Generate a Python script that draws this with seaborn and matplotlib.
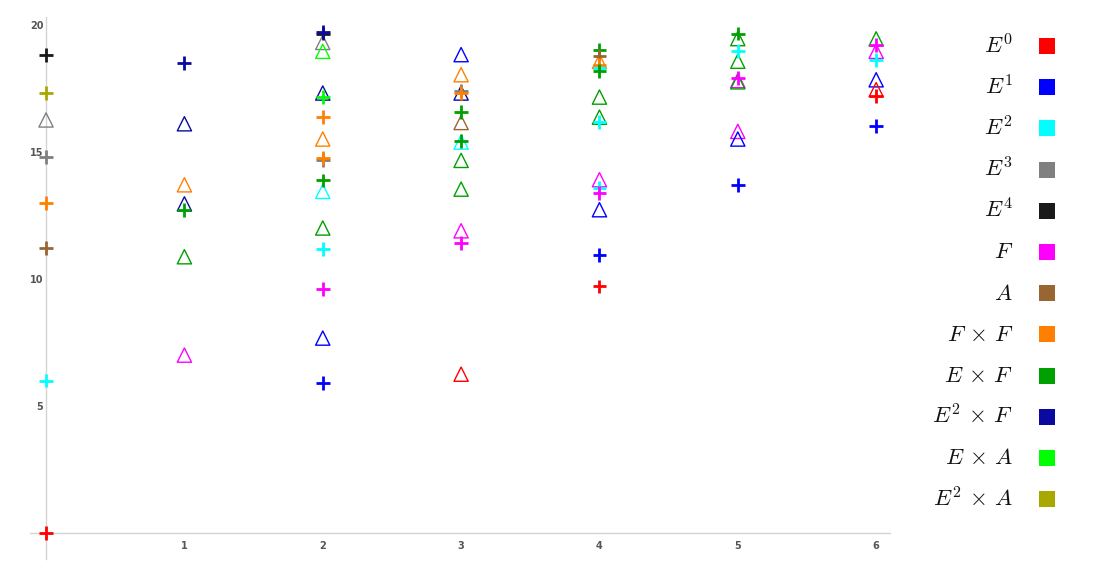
import numpy as np
import pandas as pd
import matplotlib
matplotlib.use("Agg")
import matplotlib.pyplot as plt
from matplotlib.patches import Rectangle
from matplotlib.ticker import MultipleLocator, FixedLocator
import seaborn as sns

# ---- categories / legend ----
categories = ["E0", "E1", "E2", "E3", "E4", "F", "A", "FxF", "ExF", "E2xF", "ExA", "E2xA"]
labels = [r"$E^0$", r"$E^1$", r"$E^2$", r"$E^3$", r"$E^4$", r"$F$", r"$A$",
          r"$F\,\times\,F$", r"$E\,\times\,F$", r"$E^2\,\times\,F$", r"$E\,\times\,A$", r"$E^2\,\times\,A$"]
colors = ["#ff0000", "#0000ff", "#00ffff", "#808080", "#1a1a1a", "#ff00ff", "#996633",
          "#ff8000", "#00a000", "#0a0aa0", "#00ff00", "#a8a800"]

# ---- plus-marker series ----
plus_x = [0, 0, 0, 0, 0, 0, 0,
          1, 1,
          2, 2, 2, 2, 2, 2, 2, 2, 2, 2,
          3, 3, 3, 3, 3,
          4, 4, 4, 4, 4, 4, 4, 4, 4, 4,
          5, 5, 5, 5,
          6, 6, 6, 6]
plus_y = [18.8, 17.3, 14.8, 13.0, 11.2, 6.0, 0.0,
          18.5, 12.7,
          19.65, 19.72, 17.15, 16.35, 14.68, 14.75, 13.87, 11.17, 9.6, 5.92,
          17.38, 17.31, 16.55, 15.41, 11.4,
          19.0, 18.75, 18.3, 18.4, 18.16, 16.18, 13.57, 13.37, 10.94, 9.7,
          19.65, 18.95, 17.9, 13.7,
          19.2, 18.62, 17.2, 16.02]
plus_cat = ["E4", "E2xA", "E3", "FxF", "A", "E2", "E0",
            "E2xF", "ExF",
            "E4", "E2xF", "ExA", "FxF", "E3", "FxF", "ExF", "E2", "F", "E1",
            "E3", "FxF", "ExF", "ExF", "F",
            "ExF", "A", "E2", "FxF", "ExF", "E2", "E2", "F", "E1", "E0",
            "ExF", "E2", "F", "E1",
            "F", "E2", "E0", "E1"]

# ---- triangle-marker series ----
tri_x = [0,
         1, 1, 1, 1, 1,
         2, 2, 2, 2, 2, 2, 2,
         3, 3, 3, 3, 3, 3, 3, 3, 3,
         4, 4, 4, 4, 4,
         5, 5, 5, 5, 5, 5,
         6, 6, 6, 6]
tri_y = [16.25,
         16.1, 13.7, 12.95, 10.87, 7.0,
         19.3, 18.95, 17.31, 15.5, 13.44, 12.0, 7.67,
         18.82, 18.03, 17.31, 16.15, 15.38, 14.66, 13.53, 11.89, 6.25,
         18.55, 17.15, 16.36, 13.9, 12.72,
         19.45, 18.56, 17.8, 17.75, 15.8, 15.5,
         19.44, 18.95, 17.83, 17.44]
tri_cat = ["E3",
           "E2xF", "FxF", "E2xF", "ExF", "F",
           "E3", "ExA", "E2xF", "FxF", "E2", "ExF", "E1",
           "E1", "FxF", "E2xF", "A", "E2", "ExF", "ExF", "F", "E0",
           "FxF", "ExF", "ExF", "F", "E1",
           "ExF", "ExF", "F", "ExF", "F", "E1",
           "ExF", "F", "E1", "E0"]

x_ticks = [1, 2, 3, 4, 5, 6]
y_ticks = [5, 10, 15, 20]

palette = dict(zip(categories, colors))
df_plus = pd.DataFrame({"x": plus_x, "y": plus_y, "cat": plus_cat})
df_tri = pd.DataFrame({"x": tri_x, "y": tri_y, "cat": tri_cat})

sns.set_style("white")
plt.rcParams["mathtext.fontset"] = "cm"

W, H = 1094, 586
fig = plt.figure(figsize=(W / 100, H / 100), dpi=100)
ax = fig.add_axes([30 / W, 1 - 559 / H, 860 / W, (559 - 17) / H])

sns.scatterplot(data=df_tri, x="x", y="y", hue="cat", hue_order=categories,
                palette=palette, marker="^", s=105, linewidth=1.0,
                legend=False, ax=ax, zorder=3)
tri_coll = ax.collections[-1]
fcs = tri_coll.get_facecolors()
tri_coll.set_edgecolors(fcs)
tri_coll.set_facecolors("none")

sns.scatterplot(data=df_plus, x="x", y="y", hue="cat", hue_order=categories,
                palette=palette, marker="+", s=100, linewidth=2.0,
                legend=False, ax=ax, zorder=4)

ax.set_xlim(-0.116, 6.10)
ax.set_ylim(-1.02, 20.3)
ax.set_xlabel("")
ax.set_ylabel("")

for side in ["top", "right"]:
    ax.spines[side].set_visible(False)
ax.spines["left"].set_position(("data", 0))
ax.spines["bottom"].set_position(("data", 0))
for side in ["left", "bottom"]:
    ax.spines[side].set_color("#d4d4d4")
    ax.spines[side].set_linewidth(1.0)

ax.xaxis.set_major_locator(FixedLocator(x_ticks))
ax.xaxis.set_minor_locator(MultipleLocator(0.2))
ax.yaxis.set_major_locator(FixedLocator(y_ticks))
ax.yaxis.set_minor_locator(MultipleLocator(1))
ax.tick_params(which="both", direction="in", color="#b0b0b0",
               labelcolor="#555555", labelsize=7, width=0.9)
ax.tick_params(which="major", length=4)
ax.tick_params(which="minor", length=2.5)
ax.tick_params(axis="x", which="major", pad=6)
ax.tick_params(axis="y", which="major", pad=2)
for lab in ax.get_xticklabels() + ax.get_yticklabels():
    lab.set_fontweight("bold")

# ---- legend (manual, right-aligned labels with colour swatches) ----
row0, step = 46, 41.2
for i, (lab, col) in enumerate(zip(labels, colors)):
    py = row0 + step * i
    fig.text(1013 / W, 1 - py / H, lab, ha="right", va="center",
             fontsize=16.5, color="#111111")
    fig.add_artist(Rectangle((1039 / W, 1 - (py + 8) / H), 16 / W, 16 / H,
                             transform=fig.transFigure, facecolor=col,
                             edgecolor="none"))

fig.savefig("out.png", dpi=100)
